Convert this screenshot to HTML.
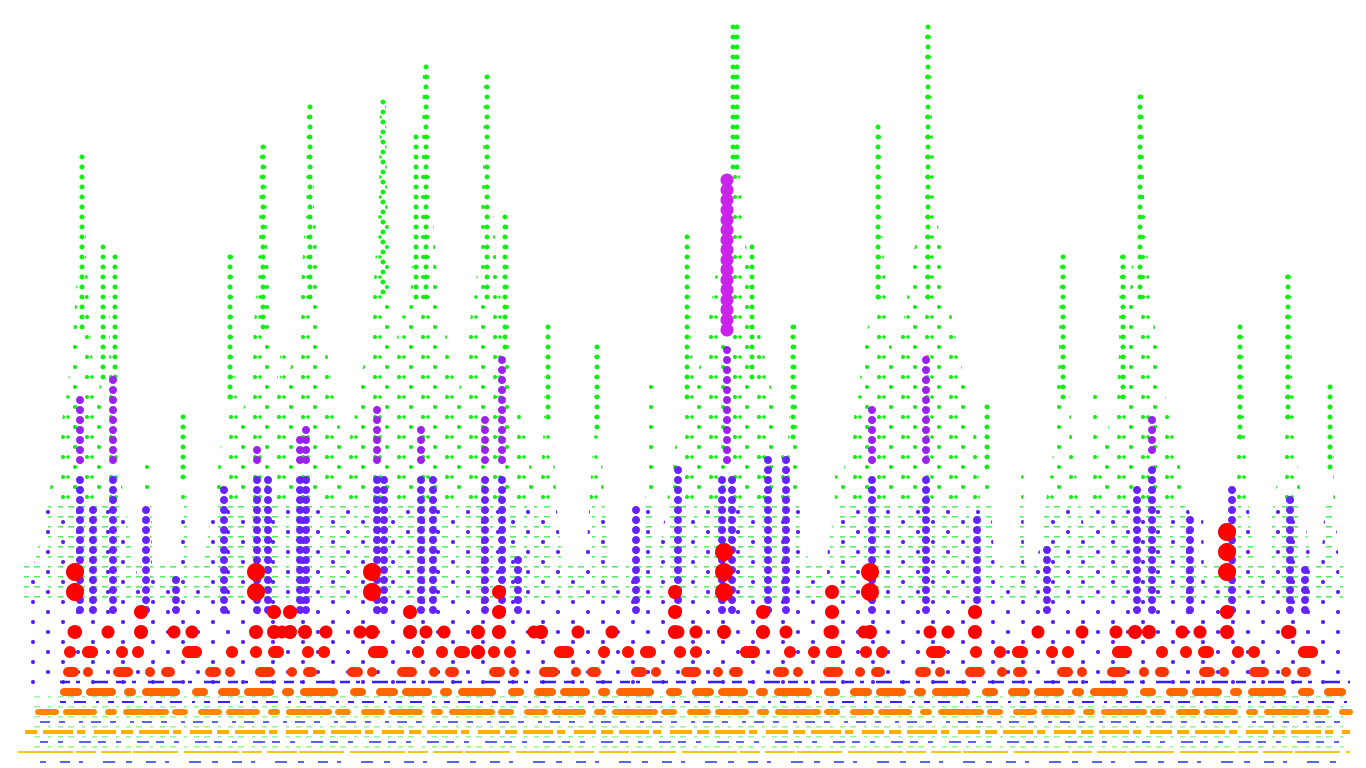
<!DOCTYPE html>
<html><head><meta charset="utf-8"><style>
html,body{margin:0;padding:0;background:#fff;overflow:hidden}
svg{display:block}
</style></head><body>
<svg xmlns="http://www.w3.org/2000/svg" width="1366" height="768" viewBox="0 0 1366 768">
<defs>
<pattern id="pg" width="24" height="20" patternUnits="userSpaceOnUse" x="1" y="7">
<circle cx="2" cy="0" r="2" fill="#11ee11"/><circle cx="2" cy="20" r="2" fill="#11ee11"/>
<circle cx="14" cy="10" r="2" fill="#11ee11"/><circle cx="19" cy="10" r="1.8" fill="#11ee11"/>
</pattern>
<pattern id="pf" width="34" height="10" patternUnits="userSpaceOnUse" y="6">
<rect x="0" y="0" width="6" height="1.6" fill="#55ee66"/><rect x="14" y="0" width="3" height="1.6" fill="#55ee66"/><rect x="24" y="0" width="5" height="1.6" fill="#55ee66"/>
</pattern>
<pattern id="pb2" width="30" height="20" patternUnits="userSpaceOnUse" y="2">
<circle cx="3" cy="0" r="2" fill="#5522ff"/><circle cx="3" cy="20" r="2" fill="#5522ff"/>
<circle cx="18" cy="10" r="2" fill="#5522ff"/>
</pattern>
<clipPath id="cg">
<path transform="translate(82,155)" d="M-3,0L3,0L4,100L10,200L25,300L50,420L60,700L-60,700L-50,420L-25,300L-10,200L-4,100Z"/>
<path transform="translate(106,245)" d="M-3,0L3,0L4,100L10,200L25,300L50,420L60,700L-60,700L-50,420L-25,300L-10,200L-4,100Z"/>
<path transform="translate(148,465)" d="M-3,0L3,0L4,100L10,200L25,300L50,420L60,700L-60,700L-50,420L-25,300L-10,200L-4,100Z"/>
<path transform="translate(183,415)" d="M-3,0L3,0L4,100L10,200L25,300L50,420L60,700L-60,700L-50,420L-25,300L-10,200L-4,100Z"/>
<path transform="translate(230,255)" d="M-3,0L3,0L4,100L10,200L25,300L50,420L60,700L-60,700L-50,420L-25,300L-10,200L-4,100Z"/>
<path transform="translate(263,145)" d="M-3,0L3,0L4,100L10,200L25,300L50,420L60,700L-60,700L-50,420L-25,300L-10,200L-4,100Z"/>
<path transform="translate(283,355)" d="M-3,0L3,0L4,100L10,200L25,300L50,420L60,700L-60,700L-50,420L-25,300L-10,200L-4,100Z"/>
<path transform="translate(310,105)" d="M-3,0L3,0L4,100L10,200L25,300L50,420L60,700L-60,700L-50,420L-25,300L-10,200L-4,100Z"/>
<path transform="translate(383,100)" d="M-3,0L3,0L4,100L10,200L25,300L50,420L60,700L-60,700L-50,420L-25,300L-10,200L-4,100Z"/>
<path transform="translate(404,300)" d="M-3,0L3,0L4,100L10,200L25,300L50,420L60,700L-60,700L-50,420L-25,300L-10,200L-4,100Z"/>
<path transform="translate(426,65)" d="M-3,0L3,0L4,100L10,200L25,300L50,420L60,700L-60,700L-50,420L-25,300L-10,200L-4,100Z"/>
<path transform="translate(418,135)" d="M-3,0L3,0L4,100L10,200L25,300L50,420L60,700L-60,700L-50,420L-25,300L-10,200L-4,100Z"/>
<path transform="translate(487,75)" d="M-3,0L3,0L4,100L10,200L25,300L50,420L60,700L-60,700L-50,420L-25,300L-10,200L-4,100Z"/>
<path transform="translate(505,215)" d="M-3,0L3,0L4,100L10,200L25,300L50,420L60,700L-60,700L-50,420L-25,300L-10,200L-4,100Z"/>
<path transform="translate(548,325)" d="M-3,0L3,0L4,100L10,200L25,300L50,420L60,700L-60,700L-50,420L-25,300L-10,200L-4,100Z"/>
<path transform="translate(597,345)" d="M-3,0L3,0L4,100L10,200L25,300L50,420L60,700L-60,700L-50,420L-25,300L-10,200L-4,100Z"/>
<path transform="translate(650,385)" d="M-3,0L3,0L4,100L10,200L25,300L50,420L60,700L-60,700L-50,420L-25,300L-10,200L-4,100Z"/>
<path transform="translate(687,235)" d="M-3,0L3,0L4,100L10,200L25,300L50,420L60,700L-60,700L-50,420L-25,300L-10,200L-4,100Z"/>
<path transform="translate(733,25)" d="M-3,0L3,0L4,100L10,200L25,300L50,420L60,700L-60,700L-50,420L-25,300L-10,200L-4,100Z"/>
<path transform="translate(752,245)" d="M-3,0L3,0L4,100L10,200L25,300L50,420L60,700L-60,700L-50,420L-25,300L-10,200L-4,100Z"/>
<path transform="translate(793,325)" d="M-3,0L3,0L4,100L10,200L25,300L50,420L60,700L-60,700L-50,420L-25,300L-10,200L-4,100Z"/>
<path transform="translate(838,475)" d="M-3,0L3,0L4,100L10,200L25,300L50,420L60,700L-60,700L-50,420L-25,300L-10,200L-4,100Z"/>
<path transform="translate(878,125)" d="M-3,0L3,0L4,100L10,200L25,300L50,420L60,700L-60,700L-50,420L-25,300L-10,200L-4,100Z"/>
<path transform="translate(928,25)" d="M-3,0L3,0L4,100L10,200L25,300L50,420L60,700L-60,700L-50,420L-25,300L-10,200L-4,100Z"/>
<path transform="translate(987,405)" d="M-3,0L3,0L4,100L10,200L25,300L50,420L60,700L-60,700L-50,420L-25,300L-10,200L-4,100Z"/>
<path transform="translate(1020,460)" d="M-3,0L3,0L4,100L10,200L25,300L50,420L60,700L-60,700L-50,420L-25,300L-10,200L-4,100Z"/>
<path transform="translate(1063,255)" d="M-3,0L3,0L4,100L10,200L25,300L50,420L60,700L-60,700L-50,420L-25,300L-10,200L-4,100Z"/>
<path transform="translate(1095,390)" d="M-3,0L3,0L4,100L10,200L25,300L50,420L60,700L-60,700L-50,420L-25,300L-10,200L-4,100Z"/>
<path transform="translate(1123,255)" d="M-3,0L3,0L4,100L10,200L25,300L50,420L60,700L-60,700L-50,420L-25,300L-10,200L-4,100Z"/>
<path transform="translate(1140,95)" d="M-3,0L3,0L4,100L10,200L25,300L50,420L60,700L-60,700L-50,420L-25,300L-10,200L-4,100Z"/>
<path transform="translate(1200,500)" d="M-3,0L3,0L4,100L10,200L25,300L50,420L60,700L-60,700L-50,420L-25,300L-10,200L-4,100Z"/>
<path transform="translate(1240,325)" d="M-3,0L3,0L4,100L10,200L25,300L50,420L60,700L-60,700L-50,420L-25,300L-10,200L-4,100Z"/>
<path transform="translate(1288,275)" d="M-3,0L3,0L4,100L10,200L25,300L50,420L60,700L-60,700L-50,420L-25,300L-10,200L-4,100Z"/>
<path transform="translate(1330,385)" d="M-3,0L3,0L4,100L10,200L25,300L50,420L60,700L-60,700L-50,420L-25,300L-10,200L-4,100Z"/>
</clipPath>
</defs>
<rect width="1366" height="768" fill="#fff"/>
<g clip-path="url(#cg)">
<rect x="20" y="20" width="1330" height="485" fill="url(#pg)"/>
<rect x="20" y="505" width="1330" height="55" fill="url(#pf)"/>
<rect x="20" y="505" width="1330" height="70" fill="url(#pb2)"/>
</g>
<!-- green spike columns -->
<g fill="none" stroke="#11ee11" stroke-width="5" stroke-linecap="round" stroke-dasharray="0 10">
<line x1="82" y1="157" x2="82" y2="330"/><line x1="103" y1="247" x2="103" y2="380"/><line x1="115" y1="257" x2="115" y2="380"/>
<line x1="183" y1="417" x2="183" y2="480"/><line x1="230" y1="257" x2="230" y2="400"/><line x1="263" y1="147" x2="263" y2="330"/>
<line x1="310" y1="107" x2="310" y2="300"/><line x1="383" y1="102" x2="383" y2="300"/><line x1="426" y1="67" x2="426" y2="300"/>
<line x1="416" y1="137" x2="416" y2="300"/><line x1="487" y1="77" x2="487" y2="300"/><line x1="505" y1="217" x2="505" y2="350"/>
<line x1="548" y1="327" x2="548" y2="420"/><line x1="597" y1="347" x2="597" y2="430"/><line x1="687" y1="237" x2="687" y2="400"/>
<line x1="733" y1="27" x2="733" y2="170"/><line x1="737" y1="27" x2="737" y2="170"/><line x1="752" y1="247" x2="752" y2="380"/>
<line x1="793" y1="327" x2="793" y2="440"/><line x1="878" y1="127" x2="878" y2="300"/><line x1="928" y1="27" x2="928" y2="300"/>
<line x1="987" y1="407" x2="987" y2="470"/><line x1="1063" y1="257" x2="1063" y2="400"/><line x1="1123" y1="257" x2="1123" y2="400"/>
<line x1="1140" y1="97" x2="1140" y2="300"/><line x1="1240" y1="327" x2="1240" y2="440"/><line x1="1288" y1="277" x2="1288" y2="420"/>
<line x1="1330" y1="387" x2="1330" y2="470"/>
</g>
<rect x="20" y="560" width="1330" height="40" fill="url(#pf)"/>
<rect x="30" y="575" width="1320" height="110" fill="url(#pb2)"/>
<rect x="30" y="690" width="1320" height="60" fill="url(#pf)" opacity="0.6"/>
<g fill="none">
<line x1="40" y1="762" x2="1350" y2="762" stroke="#2233ee" stroke-width="1.5" stroke-dasharray="6 14 10 9 4 20 12 11"/>
<line x1="40" y1="742" x2="1350" y2="742" stroke="#2233ee" stroke-width="1.5" stroke-dasharray="8 10 5 16 12 7"/>
<line x1="40" y1="722" x2="1350" y2="722" stroke="#2233ee" stroke-width="1.5" stroke-dasharray="10 9 6 14 4 8"/>
<line x1="60" y1="702" x2="1350" y2="702" stroke="#3322ff" stroke-width="2" stroke-dasharray="6 8 12 10 3 9"/>
<line x1="60" y1="682" x2="1350" y2="682" stroke="#3322ff" stroke-width="2.5" stroke-dasharray="10 6 4 12 16 8"/>
<line x1="18" y1="752" x2="1350" y2="752" stroke="#f5c518" stroke-width="2" stroke-dasharray="55 3 20 5 30 2 45 6"/>
<line x1="25" y1="732" x2="1350" y2="732" stroke="#ffb000" stroke-width="4" stroke-dasharray="12 6 30 4 8 9 22 5"/>
<line x1="38" y1="712" x2="1350" y2="712" stroke="#ff8800" stroke-width="6" stroke-linecap="round" stroke-dasharray="18 10 28 14 6 12 40 9 10 16"/>
<line x1="64" y1="692" x2="1350" y2="692" stroke="#ff6600" stroke-width="8" stroke-linecap="round" stroke-dasharray="14 12 22 16 4 14 30 20 8 18"/>
<line x1="68" y1="672" x2="1345" y2="672" stroke="#ff3300" stroke-width="10" stroke-linecap="round" stroke-dasharray="6 14 0 30 10 22 0 16 4 40"/>
<line x1="70" y1="652" x2="1330" y2="652" stroke="#ff1100" stroke-width="12" stroke-linecap="round" stroke-dasharray="0 18 4 30 0 16 0 50 8 36 0 24"/>
<line x1="74" y1="632" x2="1300" y2="632" stroke="#ff0000" stroke-width="13" stroke-linecap="round" stroke-dasharray="0 34 0 66 0 18 0 90 0 44"/>
</g>
<g fill="none" stroke-linecap="round" stroke-dasharray="0 10">
<g stroke="#9922ee" stroke-width="8">
<line x1="80" y1="400" x2="80" y2="470"/><line x1="113" y1="380" x2="113" y2="470"/>
<line x1="257" y1="450" x2="257" y2="470"/><line x1="306" y1="430" x2="306" y2="470"/><line x1="300" y1="440" x2="300" y2="470"/>
<line x1="377" y1="410" x2="377" y2="470"/><line x1="421" y1="430" x2="421" y2="470"/><line x1="485" y1="420" x2="485" y2="470"/>
<line x1="502" y1="360" x2="502" y2="470"/><line x1="727" y1="350" x2="727" y2="470"/><line x1="872" y1="410" x2="872" y2="470"/>
<line x1="926" y1="360" x2="926" y2="470"/><line x1="1152" y1="420" x2="1152" y2="460"/>
</g>
<line x1="727" y1="180" x2="727" y2="340" stroke="#cc22ee" stroke-width="13"/>
<g stroke="#6622ff" stroke-width="8">
<line x1="80" y1="480" x2="80" y2="620"/><line x1="113" y1="480" x2="113" y2="620"/><line x1="93" y1="510" x2="93" y2="620"/>
<line x1="146" y1="510" x2="146" y2="620"/><line x1="176" y1="580" x2="176" y2="620"/><line x1="224" y1="490" x2="224" y2="620"/>
<line x1="257" y1="480" x2="257" y2="620"/><line x1="268" y1="480" x2="268" y2="620"/><line x1="300" y1="480" x2="300" y2="620"/><line x1="306" y1="480" x2="306" y2="620"/>
<line x1="377" y1="480" x2="377" y2="620"/><line x1="384" y1="480" x2="384" y2="620"/><line x1="421" y1="480" x2="421" y2="620"/><line x1="433" y1="480" x2="433" y2="620"/>
<line x1="485" y1="480" x2="485" y2="620"/><line x1="502" y1="480" x2="502" y2="620"/><line x1="518" y1="560" x2="518" y2="620"/>
<line x1="636" y1="510" x2="636" y2="620"/><line x1="678" y1="470" x2="678" y2="620"/><line x1="722" y1="480" x2="722" y2="620"/><line x1="732" y1="480" x2="732" y2="620"/>
<line x1="768" y1="460" x2="768" y2="620"/><line x1="786" y1="460" x2="786" y2="620"/><line x1="872" y1="480" x2="872" y2="620"/>
<line x1="926" y1="480" x2="926" y2="620"/><line x1="977" y1="520" x2="977" y2="620"/><line x1="1047" y1="550" x2="1047" y2="620"/>
<line x1="1137" y1="490" x2="1137" y2="620"/><line x1="1152" y1="470" x2="1152" y2="620"/><line x1="1190" y1="520" x2="1190" y2="620"/>
<line x1="1232" y1="490" x2="1232" y2="620"/><line x1="1290" y1="500" x2="1290" y2="620"/><line x1="1305" y1="570" x2="1305" y2="620"/>
</g>
</g>
<g fill="none" stroke="#ff0000" stroke-linecap="round" stroke-dasharray="0 20">
<g stroke-width="18">
<line x1="75" y1="572" x2="75" y2="612"/><line x1="256" y1="572" x2="256" y2="612"/><line x1="372" y1="572" x2="372" y2="612"/>
<line x1="724" y1="552" x2="724" y2="612"/><line x1="870" y1="572" x2="870" y2="612"/><line x1="1227" y1="532" x2="1227" y2="592"/>
</g>
<g stroke-width="14">
<line x1="75" y1="632" x2="75" y2="652"/><line x1="256" y1="632" x2="256" y2="652"/><line x1="372" y1="632" x2="372" y2="652"/>
<line x1="724" y1="632" x2="724" y2="652"/><line x1="870" y1="632" x2="870" y2="652"/><line x1="1227" y1="612" x2="1227" y2="652"/>
<line x1="499" y1="592" x2="499" y2="652"/><line x1="832" y1="592" x2="832" y2="652"/><line x1="675" y1="592" x2="675" y2="652"/>
<line x1="410" y1="612" x2="410" y2="652"/><line x1="141" y1="612" x2="141" y2="652"/><line x1="274" y1="612" x2="274" y2="652"/>
<line x1="290" y1="612" x2="290" y2="652"/><line x1="763" y1="612" x2="763" y2="652"/><line x1="975" y1="612" x2="975" y2="652"/>
<line x1="305" y1="632" x2="305" y2="652"/><line x1="478" y1="632" x2="478" y2="672"/><line x1="541" y1="632" x2="541" y2="652"/>
<line x1="1135" y1="632" x2="1135" y2="652"/><line x1="1149" y1="632" x2="1149" y2="652"/><line x1="1288" y1="632" x2="1288" y2="652"/>
</g>
</g>
</svg>
</body></html>
